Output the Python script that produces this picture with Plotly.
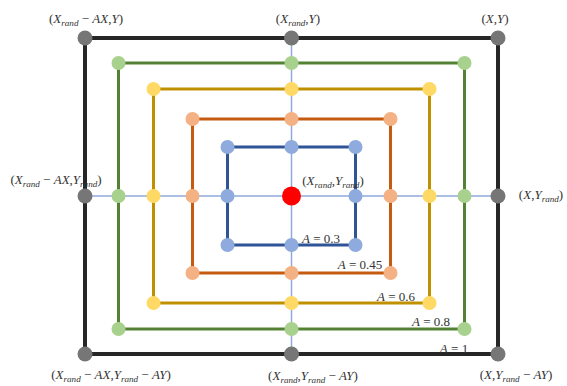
import plotly.graph_objects as go

# ---- data (diagram coordinates) ----
center_x = 291.5
center_y = 196
levels = ["1", "0.8", "0.6", "0.45", "0.3"]
half_w = [206.5, 173, 138, 99, 64]
half_h = [158, 133, 107, 77, 49]
line_colors = ["#262626", "#548235", "#bf9000", "#c55a11", "#2f5597"]
marker_colors = ["#767676", "#a9d18e", "#ffd966", "#f4b183", "#8faadc"]
line_widths = [4, 3, 3, 3, 3]

# A-label positions
a_label_x = [454, 431, 396, 360, 321]
a_label_y = [350, 323, 298, 266, 240]

# coordinate labels
coord_texts = [
    "(<i>X<sub>rand</sub></i> − <i>AX</i>,<i>Y</i>)",
    "(<i>X<sub>rand</sub></i>,<i>Y</i>)",
    "(<i>X</i>,<i>Y</i>)",
    "(<i>X<sub>rand</sub></i> − <i>AX</i>,<i>Y<sub>rand</sub></i>)",
    "(<i>X<sub>rand</sub></i>,<i>Y<sub>rand</sub></i>)",
    "(<i>X</i>,<i>Y<sub>rand</sub></i>)",
    "(<i>X<sub>rand</sub></i> − <i>AX</i>,<i>Y<sub>rand</sub></i> − <i>AY</i>)",
    "(<i>X<sub>rand</sub></i>,<i>Y<sub>rand</sub></i> − <i>AY</i>)",
    "(<i>X</i>,<i>Y<sub>rand</sub></i> − <i>AY</i>)",
]
coord_x = [86, 298, 495, 56, 333, 541, 111, 313, 516]
coord_y = [20, 20, 20, 181, 182, 196, 376, 377, 376]

fig = go.Figure()

# thin cross lines
fig.add_trace(go.Scatter(
    x=[center_x - half_w[0], center_x + half_w[0]], y=[center_y, center_y],
    mode="lines", line=dict(color="#8faadc", width=1.5), hoverinfo="skip", showlegend=False))
fig.add_trace(go.Scatter(
    x=[center_x, center_x], y=[center_y - half_h[0], center_y + half_h[0]],
    mode="lines", line=dict(color="#8faadc", width=1.5), hoverinfo="skip", showlegend=False))

# rectangles
for hw, hh, lc, lw in zip(half_w, half_h, line_colors, line_widths):
    xs = [center_x - hw, center_x + hw, center_x + hw, center_x - hw, center_x - hw]
    ys = [center_y - hh, center_y - hh, center_y + hh, center_y + hh, center_y - hh]
    fig.add_trace(go.Scatter(x=xs, y=ys, mode="lines",
                             line=dict(color=lc, width=lw),
                             hoverinfo="skip", showlegend=False))

# points
for hw, hh, mc, i in zip(half_w, half_h, marker_colors, range(len(levels))):
    xs, ys = [], []
    for dx in (-1, 0, 1):
        for dy in (-1, 0, 1):
            if dx == 0 and dy == 0:
                continue
            xs.append(center_x + dx * hw)
            ys.append(center_y + dy * hh)
    fig.add_trace(go.Scatter(x=xs, y=ys, mode="markers",
                             marker=dict(color=mc, size=15 if i == 0 else 14, line=dict(width=0)),
                             hoverinfo="skip", showlegend=False))

# center
fig.add_trace(go.Scatter(x=[center_x], y=[center_y], mode="markers",
                         marker=dict(color="#ff0000", size=19, line=dict(width=0)),
                         hoverinfo="skip", showlegend=False))

# A labels
fig.add_trace(go.Scatter(
    x=a_label_x, y=a_label_y, mode="text",
    text=["<i>A</i> = " + l for l in levels],
    textfont=dict(family="Liberation Serif", size=13, color="#333333"),
    hoverinfo="skip", showlegend=False))

# coordinate labels
fig.add_trace(go.Scatter(
    x=coord_x, y=coord_y, mode="text", text=coord_texts,
    textfont=dict(family="Liberation Serif", size=13, color="#333333"),
    hoverinfo="skip", showlegend=False))

fig.update_layout(
    width=567, height=386,
    margin=dict(l=0, r=0, t=0, b=0),
    paper_bgcolor="white", plot_bgcolor="white",
    xaxis=dict(range=[0, 567], visible=False, fixedrange=True),
    yaxis=dict(range=[386, 0], visible=False, fixedrange=True),
)

fig.write_html("out.html",
               config={"displayModeBar": False},
               post_script="document.body.style.margin='0';document.body.style.overflow='hidden';")
